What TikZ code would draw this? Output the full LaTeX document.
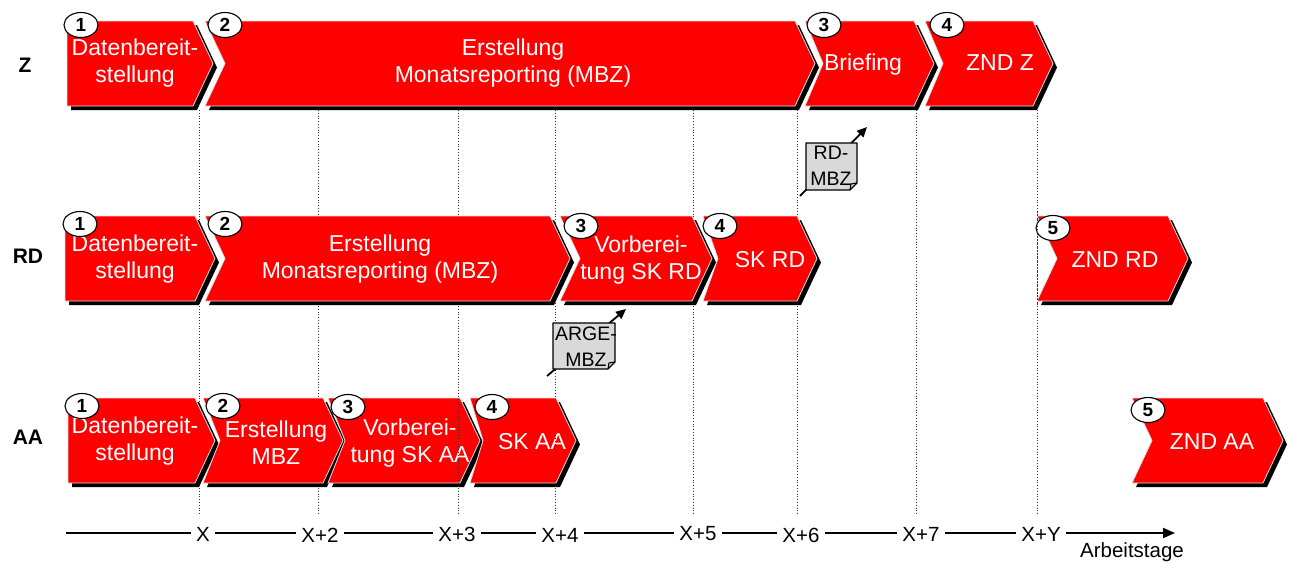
\documentclass[tikz,border=0pt]{standalone}
\usepackage{fontspec}
\setmainfont{Liberation Sans}
\usetikzlibrary{arrows.meta,shapes.geometric}
\definecolor{chevred}{RGB}{255,0,0}
\definecolor{docgray}{RGB}{217,217,217}
\tikzset{
  chevtext/.style={text=white,font=\fontsize{23}{27}\selectfont,align=center,inner sep=0pt},
  numcirc/.style={ellipse,draw=black,fill=white,line width=1.1pt,minimum width=34pt,minimum height=25pt,inner sep=0pt,font=\bfseries\fontsize{19}{19}\selectfont},
  rowlbl/.style={font=\bfseries\fontsize{21}{21}\selectfont,inner sep=0pt},
  axlbl/.style={font=\fontsize{20.5}{20.5}\selectfont,fill=white,inner xsep=5pt,inner ysep=1pt},
  gridline/.style={dotted,line width=0.8pt,black!80},
  doctext/.style={font=\fontsize{19.5}{26}\selectfont,align=center,inner sep=0pt},
  docarrow/.style={line width=1.8pt,-{Triangle[length=10pt,width=9pt]}},
  docbox/.style={fill=docgray,draw=black,line width=1.1pt,line join=round},
}
\newcommand\chev[5]{%
  \fill[black] ({#2+4},{#3+4}) -- ({#4+4},{#3+4}) -- ({#4+24},{#3+46.5}) -- ({#4+4},{#3+89}) -- ({#2+4},{#3+89}) -- ({#2+#5+4},{#3+46.5}) -- cycle;
  \filldraw[fill=chevred,draw=black!12,line width=0.8pt] (#2,#3) -- (#4,#3) -- ({#4+20},{#3+42.5}) -- (#4,{#3+85}) -- (#2,{#3+85}) -- ({#2+#5},{#3+42.5}) -- cycle;
  \coordinate (#1) at ({(#2+#4)/2},{#3+42.5});
}
\begin{document}
\begin{tikzpicture}[x=1pt,y=-1pt]
\useasboundingbox (0,0) rectangle (1289,562);
\fill[white] (0,0) rectangle (1289,562);

% grid lines (behind)
\foreach \gx in {199,318,458,555,693,797,916,1037}{
  \draw[gridline] (\gx,110) -- (\gx,515);
}

% row labels
\node[rowlbl] (lz) at (25,65) {Z};
\node[rowlbl] (lrd) at (28,256) {RD};
\node[rowlbl] (laa) at (28,437) {AA};

% Row Z
\chev{z1}{67}{21}{193}{0}
\chev{z2}{205}{21}{795}{20}
\chev{z3}{805}{21}{914}{18}
\chev{z4}{925}{21}{1033}{18}
\node[chevtext] (tz1) at (135,63) {Datenbereit-\\stellung};
\node[chevtext] (tz2) at (513,63) {Erstellung\\Monatsreporting (MBZ)};
\node[chevtext] (tz3) at (863,65) {Briefing};
\node[chevtext] (tz4) at (1000,63) {ZND Z};
\node[numcirc] (nz1) at (81,25) {1};
\node[numcirc] (nz2) at (225,25) {2};
\node[numcirc] (nz3) at (824,25) {3};
\node[numcirc] (nz4) at (947,25) {4};

% Row RD
\chev{r1}{65}{216}{195}{0}
\chev{r2}{205}{216}{550}{20}
\chev{r3}{560}{216}{692}{20}
\chev{r4}{703}{216}{797}{15}
\chev{r5}{1037}{216}{1168}{20}
\node[chevtext] (tr1) at (135,259) {Datenbereit-\\stellung};
\node[chevtext] (tr2) at (380,259) {Erstellung\\Monatsreporting (MBZ)};
\node[chevtext] (tr3) at (641,260) {Vorberei-\\tung SK RD};
\node[chevtext] (tr4) at (770,260) {SK RD};
\node[chevtext] (tr5) at (1115,260) {ZND RD};
\node[numcirc] (nr1) at (80,224) {1};
\node[numcirc] (nr2) at (225,224) {2};
\node[numcirc] (nr3) at (581,226) {3};
\node[numcirc] (nr4) at (720,226) {4};
\node[numcirc] (nr5) at (1053,228) {5};
\draw[gridline] (1037,212) -- (1037,305);

% Row AA
\chev{a1}{68}{398}{195}{0}
\chev{a2}{203}{398}{323}{17}
\chev{a3}{328}{398}{460}{17}
\chev{a4}{470}{398}{556}{13}
\chev{a5}{1132}{398}{1263}{20}
\node[chevtext] (ta1) at (135,441) {Datenbereit-\\stellung};
\node[chevtext] (ta2) at (276,443) {Erstellung\\MBZ};
\node[chevtext] (ta3) at (410,443) {Vorberei-\\tung SK AA};
\node[chevtext] (ta4) at (532,442) {SK AA};
\node[chevtext] (ta5) at (1212,442) {ZND AA};
\node[numcirc] (na1) at (82,406) {1};
\node[numcirc] (na2) at (223,406) {2};
\node[numcirc] (na3) at (348,407) {3};
\node[numcirc] (na4) at (492,407) {4};
\node[numcirc] (na5) at (1148,410) {5};
\draw[gridline] (458,396) -- (458,490);
\draw[gridline] (555,396) -- (555,490);

% document RD-MBZ
\coordinate (ra) at (800,196);
\coordinate (rb) at (867,127);
\draw[docarrow] (ra) -- (rb);
\filldraw[docbox] (806,143) -- (857,143) -- (857,183) -- (850,190) -- (806,190) -- cycle;
\draw[line width=1.1pt] (850,190) -- (851,184) -- (857,183);
\node[doctext] (drd) at (831,166) {RD-\\MBZ};

% document ARGE-MBZ
\coordinate (aa) at (547,376);
\coordinate (ab) at (626,309);
\draw[docarrow] (aa) -- (ab);
\filldraw[docbox] (553,323) -- (615,323) -- (615,362) -- (608,369) -- (553,369) -- cycle;
\draw[line width=1.1pt] (608,369) -- (609,363) -- (615,362);
\node[doctext] (darge) at (586,347) {ARGE-\\MBZ};

% axis
\coordinate (ax0) at (66,533);
\coordinate (ax1) at (1175,533);
\draw[line width=1.8pt,-{Triangle[length=12pt,width=10pt]}] (ax0) -- (ax1);
\node[axlbl] (x0) at (203,534) {X};
\node[axlbl] (x2) at (320,535) {X+2};
\node[axlbl] (x3) at (457,534) {X+3};
\node[axlbl] (x4) at (560,535) {X+4};
\node[axlbl] (x5) at (698,534) {X+5};
\node[axlbl] (x6) at (801,535) {X+6};
\node[axlbl] (x7) at (921,534) {X+7};
\node[axlbl] (xy) at (1041,534) {X+Y};
\node[font=\fontsize{20.5}{20.5}\selectfont,inner sep=0pt] (arb) at (1132,552) {Arbeitstage};
\end{tikzpicture}
\end{document}
